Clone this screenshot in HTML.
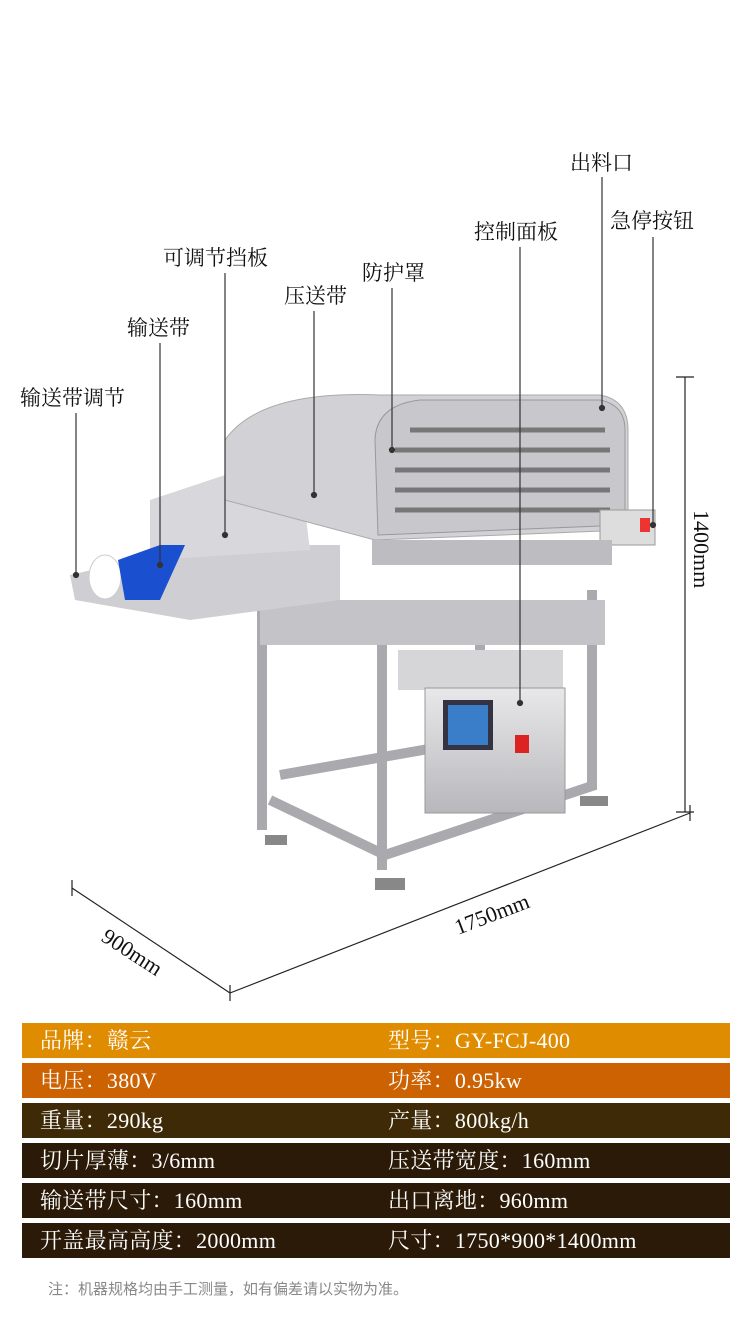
<!DOCTYPE html>
<html><head><meta charset="utf-8"><style>
body{margin:0;width:750px;height:1324px;background:#fff;overflow:hidden;position:relative;font-family:"Liberation Serif","Noto Serif CJK SC",serif}
.row{position:absolute;left:22px;width:708px;height:35px;color:#fff;font-size:22px;line-height:35px;letter-spacing:0.3px}
.row span{position:absolute;top:0}
.l{left:18px}.r{left:366px}
.note{position:absolute;left:48px;top:1278px;font-size:15px;color:#888;font-family:"Liberation Sans","Noto Sans CJK SC",sans-serif}
</style></head><body>
<svg width="750" height="1010" style="position:absolute;left:0;top:0" font-family="Liberation Serif, Noto Serif CJK SC, serif" font-size="21">
<defs><linearGradient id="m" x1="0" y1="0" x2="0" y2="1"><stop offset="0" stop-color="#e8e8ea"/><stop offset="1" stop-color="#b8b8bc"/></linearGradient></defs>
<g stroke="#a9a9ae" stroke-width="10" fill="none">
<path d="M262 610 V830 M382 640 V870 M480 600 V780 M592 590 V790 M270 800 L385 855 M385 855 L595 785 M280 775 L480 740"/>
</g>
<rect x="260" y="600" width="345" height="45" fill="#c4c4c8"/>
<rect x="398" y="650" width="165" height="40" fill="#d6d6d8"/>
<rect x="425" y="688" width="140" height="125" fill="url(#m)" stroke="#999"/>
<rect x="443" y="700" width="50" height="50" fill="#334" />
<rect x="448" y="705" width="40" height="40" fill="#3a7dc8"/>
<rect x="515" y="735" width="14" height="18" fill="#d22"/>
<g fill="#888"><rect x="265" y="835" width="22" height="10"/><rect x="375" y="878" width="30" height="12"/><rect x="580" y="796" width="28" height="10"/></g>
<polygon points="70,575 200,545 340,545 340,600 190,620 75,600" fill="#cfcfd3"/>
<polygon points="150,500 240,470 300,470 310,550 150,560" fill="#d8d8dc"/>
<ellipse cx="105" cy="577" rx="16" ry="22" fill="#fff" stroke="#ccc"/>
<polygon points="118,560 160,545 185,545 160,600 125,600" fill="#1a4fd0"/>
<rect x="270" y="480" width="80" height="30" fill="#2055d8"/>
<path d="M225 440 Q260 390 380 395 L600 395 Q628 400 628 430 L628 530 L375 540 L225 500 Z" fill="#d2d2d6" stroke="#aaa"/>
<path d="M375 440 Q376 405 420 400 L600 400 Q625 405 625 430 L625 525 L378 535 Z" fill="#c8c8cc" stroke="#999"/>
<g stroke="#777" stroke-width="5">
<path d="M395 450 H610 M395 470 H610 M395 490 H610 M395 510 H610 M410 430 H605"/>
</g>
<rect x="600" y="510" width="55" height="35" fill="#ddd" stroke="#999"/>
<rect x="640" y="518" width="10" height="14" fill="#e33"/>
<rect x="372" y="540" width="240" height="25" fill="#bdbdc1"/>
<g fill="#111">
<text x="570" y="170">出料口</text>
<text x="610" y="228">急停按钮</text>
<text x="474" y="239">控制面板</text>
<text x="362" y="280">防护罩</text>
<text x="163" y="265">可调节挡板</text>
<text x="284" y="303">压送带</text>
<text x="127" y="335">输送带</text>
<text x="20" y="405">输送带调节</text>
</g>
<g stroke="#333" stroke-width="1.2" fill="#333">
<line x1="602" y1="177" x2="602" y2="408"/><circle cx="602" cy="408" r="2.5"/>
<line x1="653" y1="237" x2="653" y2="525"/><circle cx="653" cy="525" r="2.5"/>
<line x1="520" y1="247" x2="520" y2="703"/><circle cx="520" cy="703" r="2.5"/>
<line x1="392" y1="288" x2="392" y2="450"/><circle cx="392" cy="450" r="2.5"/>
<line x1="225" y1="273" x2="225" y2="535"/><circle cx="225" cy="535" r="2.5"/>
<line x1="314" y1="311" x2="314" y2="495"/><circle cx="314" cy="495" r="2.5"/>
<line x1="160" y1="343" x2="160" y2="565"/><circle cx="160" cy="565" r="2.5"/>
<line x1="76" y1="413" x2="76" y2="575"/><circle cx="76" cy="575" r="2.5"/>
</g>
<g stroke="#222" stroke-width="1.2">
<line x1="685" y1="377" x2="685" y2="812"/><line x1="676" y1="377" x2="694" y2="377"/><line x1="676" y1="812" x2="694" y2="812"/>
<line x1="72" y1="888" x2="230" y2="993"/><line x1="230" y1="993" x2="690" y2="813"/>
<line x1="72" y1="880" x2="72" y2="896"/><line x1="230" y1="985" x2="230" y2="1001"/><line x1="690" y1="805" x2="690" y2="821"/>
</g>
<text transform="translate(694,510) rotate(90)" font-size="22" fill="#111">1400mm</text>
<text transform="translate(458,935) rotate(-21)" font-size="22" fill="#111">1750mm</text>
<text transform="translate(100,940) rotate(33)" font-size="22" fill="#111">900mm</text>
</svg>
<div class="row" style="top:1023px;background:#e08c00"><span class="l">品牌：赣云</span><span class="r">型号：GY-FCJ-400</span></div>
<div class="row" style="top:1063px;background:#cc6202"><span class="l">电压：380V</span><span class="r">功率：0.95kw</span></div>
<div class="row" style="top:1103px;background:#3e2a07"><span class="l">重量：290kg</span><span class="r">产量：800kg/h</span></div>
<div class="row" style="top:1143px;background:#2a1a07"><span class="l">切片厚薄：3/6mm</span><span class="r">压送带宽度：160mm</span></div>
<div class="row" style="top:1183px;background:#2a1a07"><span class="l">输送带尺寸：160mm</span><span class="r">出口离地：960mm</span></div>
<div class="row" style="top:1223px;background:#2a1a07"><span class="l">开盖最高高度：2000mm</span><span class="r">尺寸：1750*900*1400mm</span></div>
<div class="note">注：机器规格均由手工测量，如有偏差请以实物为准。</div>
</body></html>
